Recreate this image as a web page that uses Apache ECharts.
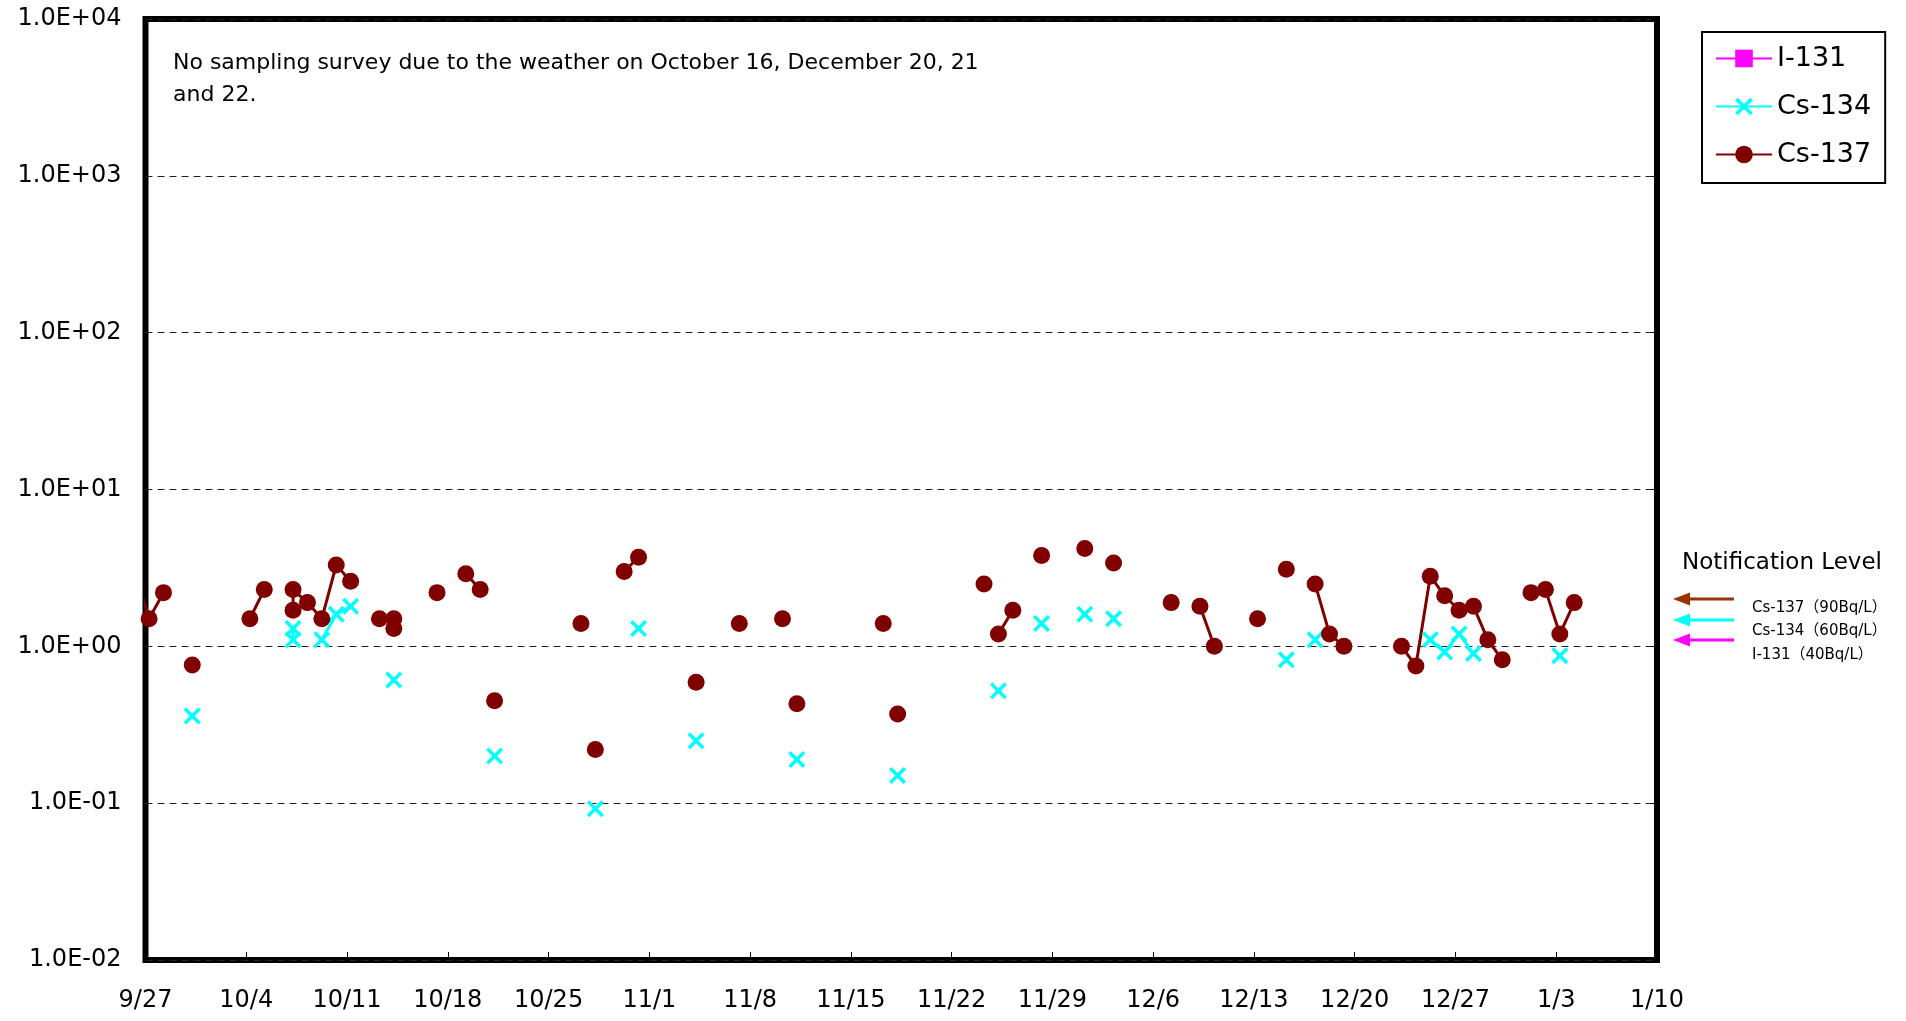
<!DOCTYPE html>
<html>
<head>
<meta charset="utf-8">
<style>
  html, body { margin: 0; padding: 0; background: #fff; }
  #chart { width: 1906px; height: 1021px; }
</style>
<script src="https://cdn.jsdelivr.net/npm/echarts/dist/echarts.min.js"></script>
</head>
<body>
<div id="chart"></div>
<script>
// ---------------- DATA ----------------
const YEAR = 2013;            // Sep–Dec in YEAR, Jan in YEAR+1
const START_DATE = '9/27';
const SAMPLE_HOUR = 6;        // samples plotted at their sampling time of day

const xTickLabels = ['9/27','10/4','10/11','10/18','10/25','11/1','11/8','11/15',
                     '11/22','11/29','12/6','12/13','12/20','12/27','1/3','1/10'];
const yTickLabels = ['1.0E-02','1.0E-01','1.0E+00','1.0E+01','1.0E+02','1.0E+03','1.0E+04'];

const seriesNames = ['I-131', 'Cs-134', 'Cs-137'];

// null = break in the line (no connection)
const i131Data = [];

const cs134Data = [
  ['9/30', 0.36], null,
  ['10/7', 1.3], ['10/7', 1.1], null,
  ['10/9', 1.1], ['10/10', 1.6], ['10/11', 1.8], null,
  ['10/14', 0.61], null,
  ['10/21', 0.20], null,
  ['10/28', 0.092], null,
  ['10/31', 1.3], null,
  ['11/4', 0.25], null,
  ['11/11', 0.19], null,
  ['11/18', 0.15], null,
  ['11/25', 0.52], null,
  ['11/28', 1.4], null,
  ['12/1', 1.6], null,
  ['12/3', 1.5], null,
  ['12/15', 0.82], null,
  ['12/17', 1.1], null,
  ['12/25', 1.1], ['12/26', 0.92], ['12/27', 1.2], ['12/28', 0.90], null,
  ['1/3', 0.87]
];

const cs137Data = [
  ['9/26', 3.0], ['9/27', 1.5], ['9/28', 2.2], null,
  ['9/30', 0.76], null,
  ['10/4', 1.5], ['10/5', 2.3], null,
  ['10/7', 1.7], ['10/7', 2.3], ['10/8', 1.9], ['10/9', 1.5], ['10/10', 3.3], ['10/11', 2.6], null,
  ['10/13', 1.5], ['10/14', 1.5], ['10/14', 1.3], null,
  ['10/17', 2.2], null,
  ['10/19', 2.9], ['10/20', 2.3], null,
  ['10/21', 0.45], null,
  ['10/27', 1.4], null,
  ['10/28', 0.22], null,
  ['10/30', 3.0], ['10/31', 3.7], null,
  ['11/4', 0.59], null,
  ['11/7', 1.4], null,
  ['11/10', 1.5], null,
  ['11/11', 0.43], null,
  ['11/17', 1.4], null,
  ['11/18', 0.37], null,
  ['11/24', 2.5], null,
  ['11/25', 1.2], ['11/26', 1.7], null,
  ['11/28', 3.8], null,
  ['12/1', 4.2], null,
  ['12/3', 3.4], null,
  ['12/7', 1.9], null,
  ['12/9', 1.8], ['12/10', 1.0], null,
  ['12/13', 1.5], null,
  ['12/15', 3.1], null,
  ['12/17', 2.5], ['12/18', 1.2], ['12/19', 1.0], null,
  ['12/23', 1.0], ['12/24', 0.75], ['12/25', 2.8], ['12/26', 2.1], ['12/27', 1.7],
  ['12/28', 1.8], ['12/29', 1.1], ['12/30', 0.82], null,
  ['1/1', 2.2], ['1/2', 2.3], ['1/3', 1.2], ['1/4', 1.9]
];

const noteText = 'No sampling survey due to the weather on October 16, December 20, 21\nand 22.';
const levelTitle = 'Notification Level';
const levelLabels = ['Cs-137（90Bq/L）', 'Cs-134（60Bq/L）', 'I-131（40Bq/L）'];

// ---------------- HELPERS ----------------
function dateToUTC(md) {
  const [m, d] = md.split('/').map(Number);
  const y = m >= 9 ? YEAR : YEAR + 1;
  return Date.UTC(y, m - 1, d);
}
function dayIndex(md) {
  return (dateToUTC(md) - dateToUTC(START_DATE)) / 86400000;
}
function toXY(arr) {
  return arr.map(p => p ? [dayIndex(p[0]) + SAMPLE_HOUR / 24, p[1]] : ['-', '-']);
}

const FONT = '"DejaVu Sans", "Noto Sans CJK JP", sans-serif';
const X_SYMBOL = 'path://M0,2.2 L2.2,0 L7.5,5.3 L12.8,0 L15,2.2 L9.7,7.5 L15,12.8 L12.8,15 L7.5,9.7 L2.2,15 L0,12.8 L5.3,7.5 Z';

const chart = echarts.init(document.getElementById('chart'), null, { renderer: 'canvas' });

const arrowColors = ['#993300', '#00FFFF', '#FF00FF'];
const arrowYs = [599, 620, 640];
const labelYs = [608, 631, 655];

const graphics = [
  {
    type: 'text', left: 173, top: 47, z: 10,
    style: { text: noteText, font: '22px ' + FONT, fill: '#000', lineHeight: 32 }
  },
  {
    type: 'text', x: 1782, y: 563, z: 10,
    style: { text: levelTitle, font: '23px ' + FONT, fill: '#000', align: 'center', verticalAlign: 'middle' }
  }
];
arrowColors.forEach((c, i) => {
  const y = arrowYs[i];
  graphics.push({
    type: 'line', z: 10,
    shape: { x1: 1686, y1: y, x2: 1734, y2: y },
    style: { stroke: c, lineWidth: 3 }
  });
  graphics.push({
    type: 'polygon', z: 10,
    shape: { points: [[1673, y], [1690, y - 6.5], [1690, y + 6.5]] },
    style: { fill: c }
  });
  graphics.push({
    type: 'text', x: 1752, y: labelYs[i], z: 10,
    style: { text: levelLabels[i], font: '15px ' + FONT, fill: '#000', verticalAlign: 'middle' }
  });
});

const option = {
  backgroundColor: '#fff',
  animation: false,
  grid: {
    left: 145.5, right: 249, top: 19, bottom: 61,
    show: true, borderColor: '#000', borderWidth: 6, backgroundColor: 'transparent'
  },
  legend: {
    data: seriesNames,
    orient: 'vertical',
    left: 1702, top: 32,
    padding: [13, 14, 15, 13],
    itemGap: 21,
    itemWidth: 56,
    itemHeight: 22,
    borderColor: '#000', borderWidth: 2,
    backgroundColor: '#fff',
    textStyle: { fontFamily: FONT, fontSize: 27, color: '#000' }
  },
  xAxis: {
    type: 'value',
    min: 0,
    max: dayIndex(xTickLabels[xTickLabels.length - 1]),
    interval: 7,
    axisLine: { show: false },
    axisTick: { show: true, inside: true, length: 8, lineStyle: { color: '#000', width: 1 } },
    splitLine: { show: false },
    axisLabel: {
      margin: 29,
      fontFamily: FONT, fontSize: 24, color: '#000',
      formatter: v => xTickLabels[Math.round(v / 7)] || ''
    }
  },
  yAxis: [
    {
      type: 'log', logBase: 10, min: 0.01, max: 10000, splitNumber: 6,
      axisLine: { show: false },
      axisTick: { show: false },
      splitLine: { show: true, lineStyle: { color: '#222', width: 1, type: [7, 5] } },
      axisLabel: {
        margin: 24,
        fontFamily: FONT, fontSize: 24, color: '#000',
        formatter: v => yTickLabels[Math.round(Math.log10(v)) + 2] || ''
      }
    },
    {
      type: 'log', logBase: 10, min: 0.01, max: 10000, splitNumber: 6,
      position: 'right',
      axisLine: { show: false },
      axisTick: { show: true, inside: true, length: 5, lineStyle: { color: '#000', width: 1 } },
      splitLine: { show: false },
      axisLabel: { show: false }
    }
  ],
  series: [
    {
      name: seriesNames[0], type: 'line', data: toXY(i131Data),
      symbol: 'rect', symbolSize: 16,
      itemStyle: { color: '#FF00FF' },
      lineStyle: { color: '#FF00FF', width: 3 }
    },
    {
      name: seriesNames[1], type: 'line', data: toXY(cs134Data),
      symbol: X_SYMBOL, symbolSize: 17,
      connectNulls: false,
      itemStyle: { color: '#00FFFF' },
      lineStyle: { color: '#00FFFF', width: 3 }
    },
    {
      name: seriesNames[2], type: 'line', data: toXY(cs137Data),
      symbol: 'circle', symbolSize: 17,
      connectNulls: false,
      itemStyle: { color: '#800000' },
      lineStyle: { color: '#800000', width: 3 }
    }
  ],
  graphic: graphics
};

chart.setOption(option);
</script>
</body>
</html>
